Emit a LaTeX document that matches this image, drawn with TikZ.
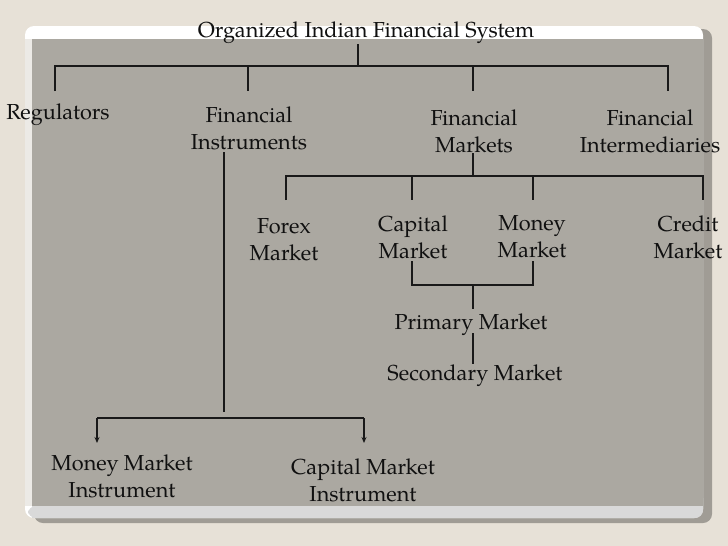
\documentclass[tikz,border=0pt]{standalone}
\usepackage{fontspec}
\setmainfont{TeX Gyre Pagella}
\usetikzlibrary{arrows.meta}
\definecolor{bgc}{HTML}{E7E1D7}
\definecolor{panelc}{HTML}{ABA8A1}
\definecolor{shadowc}{HTML}{A09C95}
\definecolor{stripc}{HTML}{D9D9D9}
\definecolor{leftc}{HTML}{ECEAE6}
\definecolor{txtc}{HTML}{101010}
\tikzset{
  lbl/.style={align=center, inner sep=0pt, text=txtc, font=\fontsize{21.7}{27}\selectfont},
  conn/.style={line width=1.2pt, draw=black!90},
  arr/.style={conn, -{Stealth[length=6pt,width=5pt]}}
}
\begin{document}
\begin{tikzpicture}[x=1pt,y=-1pt]
\useasboundingbox (0,0) rectangle (728,546);
% background and panel
\fill[bgc] (0,0) rectangle (728,546);
\fill[shadowc, rounded corners=9pt] (34,29) rectangle (712,523);
\fill[white, rounded corners=9pt] (25,26) rectangle (703,518);
\fill[leftc] (25,39) rectangle (32,506);
\fill[stripc, rounded corners=8pt] (28,506) -- (28,518) -- (703,518) -- (703,500) -- (703,506) -- cycle;
\fill[stripc] (32,506) rectangle (690,518);
\fill[panelc] (32,39) rectangle (703,506);

% nodes
\node[lbl] (title) at (366,33) {Organized Indian Financial System};
\node[lbl] (reg) at (58,115) {Regulators};
\node[lbl] (fi) at (249,128) {Financial\\Instruments};
\node[lbl] (fm) at (474,131) {Financial\\Markets};
\node[lbl] (fint) at (650,131) {Financial\\Intermediaries};
\node[lbl] (forex) at (284,240) {Forex\\Market};
\node[lbl] (capital) at (413,237) {Capital\\Market};
\node[lbl] (money) at (532,237) {Money\\Market};
\node[lbl] (credit) at (688,237) {Credit\\Market};
\node[lbl] (primary) at (471,325) {Primary Market};
\node[lbl] (secondary) at (475,376) {Secondary Market};
\node[lbl] (mmi) at (122,476) {Money Market\\Instrument};
\node[lbl] (cmi) at (363,480) {Capital Market\\Instrument};

% top bracket
\coordinate (t0) at (358,44);
\coordinate (t1) at (358,66);
\coordinate (a1) at (55,66);  \coordinate (a2) at (55,91);
\coordinate (b1) at (248,66); \coordinate (b2) at (248,91);
\coordinate (c1) at (473,66); \coordinate (c2) at (473,91);
\coordinate (d1) at (668,66); \coordinate (d2) at (668,91);
\draw[conn] (t0) -- (t1);
\draw[conn] (a2) -- (a1) -- (d1) -- (d2);
\draw[conn] (b1) -- (b2);
\draw[conn] (c1) -- (c2);

% markets bracket
\coordinate (m0) at (473,153);
\coordinate (m1) at (473,176);
\coordinate (e1) at (286,176); \coordinate (e2) at (286,200);
\coordinate (f1) at (412,176); \coordinate (f2) at (412,200);
\coordinate (g1) at (533,176); \coordinate (g2) at (533,200);
\coordinate (h1) at (703,176); \coordinate (h2) at (703,200);
\draw[conn] (m0) -- (m1);
\draw[conn] (e2) -- (e1) -- (h1) -- (h2);
\draw[conn] (f1) -- (f2);
\draw[conn] (g1) -- (g2);

% capital / money to primary
\coordinate (p1) at (412,261); \coordinate (p2) at (412,285);
\coordinate (q1) at (533,261); \coordinate (q2) at (533,285);
\coordinate (r1) at (473,285); \coordinate (r2) at (473,309);
\draw[conn] (p1) -- (p2) -- (q2) -- (q1);
\draw[conn] (r1) -- (r2);
\coordinate (s1) at (473,333); \coordinate (s2) at (473,364);
\draw[conn] (s1) -- (s2);

% instruments
\coordinate (i0) at (224,152);
\coordinate (i1) at (224,412);
\coordinate (j1) at (97,418);  \coordinate (j2) at (97,443);
\coordinate (k1) at (364,418); \coordinate (k2) at (364,443);
\draw[conn] (i0) -- (i1);
\draw[conn] (j1) -- (k1);
\draw[arr] (j1) -- (j2);
\draw[arr] (k1) -- (k2);
\end{tikzpicture}
\end{document}
